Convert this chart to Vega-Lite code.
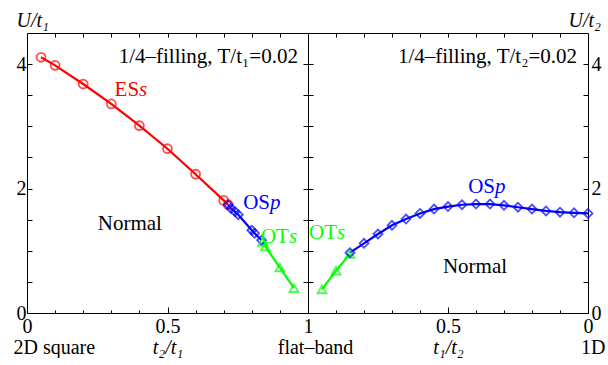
{
  "$schema": "https://vega.github.io/schema/vega-lite/v6.json",
  "background": "white",
  "padding": {"left": 12, "top": 9, "right": 0, "bottom": 0},
  "spacing": 0,
  "bounds": "flush",
  "config": {
    "view": {"stroke": "black", "strokeWidth": 1},
    "axis": {"grid": false, "domain": false, "tickColor": "black", "tickWidth": 1,
      "labelFont": "Liberation Serif", "labelFontSize": 20, "labelColor": "black",
      "titleFont": "Liberation Serif", "titleFontSize": 20, "titleColor": "black", "titleFontWeight": "normal"},
    "text": {"font": "Liberation Serif", "fontSize": 21}
  },
  "hconcat": [
    {
      "width": 281, "height": 280,
      "resolve": {"axis": {"x": "independent", "y": "independent"}},
      "data": {"values": [
        {"x": 0.05, "U": 4.11, "phase": "ESs"},
        {"x": 0.1, "U": 3.98, "phase": "ESs"},
        {"x": 0.2, "U": 3.68, "phase": "ESs"},
        {"x": 0.3, "U": 3.36, "phase": "ESs"},
        {"x": 0.4, "U": 3.01, "phase": "ESs"},
        {"x": 0.5, "U": 2.64, "phase": "ESs"},
        {"x": 0.6, "U": 2.23, "phase": "ESs"},
        {"x": 0.7, "U": 1.81, "phase": "ESs"},
        {"x": 0.716, "U": 1.74, "phase": "ESs"},
        {"x": 0.716, "U": 1.74, "phase": "OSp"},
        {"x": 0.726, "U": 1.68, "phase": "OSp"},
        {"x": 0.74, "U": 1.63, "phase": "OSp"},
        {"x": 0.752, "U": 1.58, "phase": "OSp"},
        {"x": 0.8, "U": 1.33, "phase": "OSp"},
        {"x": 0.81, "U": 1.28, "phase": "OSp"},
        {"x": 0.835, "U": 1.17, "phase": "OSp"},
        {"x": 0.838, "U": 1.14, "phase": "OTs"},
        {"x": 0.848, "U": 1.07, "phase": "OTs"},
        {"x": 0.9, "U": 0.73, "phase": "OTs"},
        {"x": 0.95, "U": 0.4, "phase": "OTs"}
      ]},
      "layer": [
        {
          "mark": {"type": "line", "strokeWidth": 2.2},
          "encoding": {
            "x": {"field": "x", "type": "quantitative", "scale": {"domain": [0, 1], "nice": false, "zero": false},
              "axis": {"orient": "bottom", "values": [0, 0.5, 1], "format": "~g", "tickSize": -6, "labelPadding": 9, "labelFlush": false,
                "title": "t₂/t₁", "titleFontStyle": "italic", "titleX": 140.5, "titleY": 40, "titleAlign": "center", "titleBaseline": "alphabetic"}},
            "y": {"field": "U", "type": "quantitative", "scale": {"domain": [0, 4.5], "nice": false},
              "axis": {"orient": "left", "values": [0, 0.5, 1, 1.5, 2, 2.5, 3, 3.5, 4], "tickSize": -5, "labelPadding": 6,
                "labelExpr": "datum.value % 2 === 0 ? format(datum.value, 'd') : ''",
                "title": "U/t₁", "titleFontStyle": "italic", "titleAngle": 0, "titleX": -11, "titleY": -7, "titleAlign": "left", "titleBaseline": "alphabetic"}},
            "color": {"field": "phase", "type": "nominal", "scale": {"domain": ["ESs", "OSp", "OTs", "Normal"], "range": ["#ff0000", "#0000ff", "#00ff00", "#000000"]}, "legend": null}
          }
        },
        {
          "mark": {"type": "point", "filled": false, "strokeWidth": 1.8, "size": 80},
          "encoding": {
            "x": {"field": "x", "type": "quantitative",
              "axis": {"orient": "top", "values": [0.1, 0.2, 0.3, 0.4, 0.5, 0.6, 0.7, 0.8, 0.9], "tickSize": -4, "labels": false, "title": null}},
            "y": {"field": "U", "type": "quantitative",
              "axis": {"orient": "right", "values": [0.5, 1, 1.5, 2, 2.5, 3, 3.5, 4], "tickSize": -5, "labels": false, "title": null}},
            "color": {"field": "phase", "type": "nominal", "legend": null},
            "shape": {"field": "phase", "type": "nominal", "scale": {"domain": ["ESs", "OSp", "OTs"], "range": ["circle", "diamond", "triangle-up"]}, "legend": null}
          }
        },
        {
          "data": {"values": [
            {"x": 0.399, "U": 3.49, "main": "ES", "ital": "s", "phase": "ESs"},
            {"x": 0.865, "U": 1.67, "main": "OS", "ital": "p", "phase": "OSp"},
            {"x": 0.932, "U": 1.13, "main": "OT", "ital": "s", "phase": "OTs"},
            {"x": 0.48, "U": 1.33, "main": "Normal", "ital": "", "phase": "Normal"},
            {"x": 0.964, "U": 4.02, "main": "1/4–filling, T/t₁=0.02", "ital": "", "phase": "Normal"}
          ]},
          "mark": {"type": "text", "align": "left", "baseline": "alphabetic", "fontStyle": "italic"},
          "encoding": {
            "x": {"field": "x", "type": "quantitative",
              "axis": {"orient": "bottom", "values": [0.1, 0.2, 0.3, 0.4, 0.6, 0.7, 0.8, 0.9], "tickSize": -3, "labels": false,
                "title": "2D square", "titleFontStyle": "normal", "titleX": -14, "titleY": 40, "titleAlign": "left", "titleBaseline": "alphabetic"}},
            "y": {"field": "U", "type": "quantitative", "axis": null},
            "text": {"field": "ital"},
            "color": {"field": "phase", "type": "nominal", "legend": null}
          }
        },
        {
          "data": {"values": [
            {"x": 0.399, "U": 3.49, "main": "ES", "ital": "s", "phase": "ESs"},
            {"x": 0.865, "U": 1.67, "main": "OS", "ital": "p", "phase": "OSp"},
            {"x": 0.932, "U": 1.13, "main": "OT", "ital": "s", "phase": "OTs"},
            {"x": 0.48, "U": 1.33, "main": "Normal", "ital": "", "phase": "Normal"},
            {"x": 0.964, "U": 4.02, "main": "1/4–filling, T/t₁=0.02", "ital": "", "phase": "Normal"}
          ]},
          "mark": {"type": "text", "align": "right", "baseline": "alphabetic"},
          "encoding": {
            "x": {"field": "x", "type": "quantitative", "axis": null},
            "y": {"field": "U", "type": "quantitative", "axis": null},
            "text": {"field": "main"},
            "color": {"field": "phase", "type": "nominal", "legend": null}
          }
        }
      ]
    },
    {
      "width": 280, "height": 280,
      "resolve": {"axis": {"x": "independent", "y": "independent"}},
      "data": {"values": [
        {"x": 0.95, "U": 0.38, "phase": "OTs"},
        {"x": 0.9, "U": 0.68, "phase": "OTs"},
        {"x": 0.85, "U": 0.95, "phase": "OTs"},
        {"x": 0.85, "U": 0.97, "phase": "OSp"},
        {"x": 0.8, "U": 1.12, "phase": "OSp"},
        {"x": 0.75, "U": 1.27, "phase": "OSp"},
        {"x": 0.7, "U": 1.41, "phase": "OSp"},
        {"x": 0.65, "U": 1.51, "phase": "OSp"},
        {"x": 0.6, "U": 1.6, "phase": "OSp"},
        {"x": 0.55, "U": 1.67, "phase": "OSp"},
        {"x": 0.5, "U": 1.71, "phase": "OSp"},
        {"x": 0.45, "U": 1.74, "phase": "OSp"},
        {"x": 0.4, "U": 1.75, "phase": "OSp"},
        {"x": 0.35, "U": 1.75, "phase": "OSp"},
        {"x": 0.3, "U": 1.73, "phase": "OSp"},
        {"x": 0.25, "U": 1.7, "phase": "OSp"},
        {"x": 0.2, "U": 1.67, "phase": "OSp"},
        {"x": 0.15, "U": 1.64, "phase": "OSp"},
        {"x": 0.1, "U": 1.62, "phase": "OSp"},
        {"x": 0.05, "U": 1.61, "phase": "OSp"},
        {"x": 0, "U": 1.6, "phase": "OSp"}
      ]},
      "layer": [
        {
          "mark": {"type": "line", "strokeWidth": 2.2},
          "encoding": {
            "x": {"field": "x", "type": "quantitative", "scale": {"domain": [0, 1], "nice": false, "zero": false, "reverse": true},
              "axis": {"orient": "bottom", "values": [1, 0.5, 0], "format": "~g", "labelExpr": "datum.value == 1 ? '' : datum.label", "tickSize": -6, "labelPadding": 9, "labelFlush": false,
                "title": "t₁/t₂", "titleFontStyle": "italic", "titleX": 140, "titleY": 40, "titleAlign": "center", "titleBaseline": "alphabetic"}},
            "y": {"field": "U", "type": "quantitative", "scale": {"domain": [0, 4.5], "nice": false},
              "axis": {"orient": "right", "values": [0, 0.5, 1, 1.5, 2, 2.5, 3, 3.5, 4], "tickSize": -5, "labelPadding": 8,
                "labelExpr": "datum.value % 2 === 0 ? format(datum.value, 'd') : ''",
                "title": "U/t₂", "titleFontStyle": "italic", "titleAngle": 0, "titleX": -20, "titleY": -7, "titleAlign": "left", "titleBaseline": "alphabetic"}},
            "color": {"field": "phase", "type": "nominal", "legend": null}
          }
        },
        {
          "mark": {"type": "point", "filled": false, "strokeWidth": 1.8, "size": 80},
          "encoding": {
            "x": {"field": "x", "type": "quantitative",
              "axis": {"orient": "top", "values": [0.1, 0.2, 0.3, 0.4, 0.5, 0.6, 0.7, 0.8, 0.9], "tickSize": -4, "labels": false,
                "title": "1D", "titleFontStyle": "normal", "titleX": 297, "titleY": 320, "titleAlign": "right", "titleBaseline": "alphabetic"}},
            "y": {"field": "U", "type": "quantitative",
              "axis": {"orient": "left", "values": [0.5, 1, 1.5, 2, 2.5, 3, 3.5, 4], "tickSize": -5, "labels": false, "title": null}},
            "color": {"field": "phase", "type": "nominal", "legend": null},
            "shape": {"field": "phase", "type": "nominal", "legend": null}
          }
        },
        {
          "data": {"values": [
            {"x": 0.896, "U": 1.19, "main": "OT", "ital": "s", "phase": "OTs"},
            {"x": 0.332, "U": 1.93, "main": "OS", "ital": "p", "phase": "OSp"},
            {"x": 0.289, "U": 0.64, "main": "Normal", "ital": "", "phase": "Normal"},
            {"x": 0.039, "U": 4.02, "main": "1/4–filling, T/t₂=0.02", "ital": "", "phase": "Normal"}
          ]},
          "mark": {"type": "text", "align": "left", "baseline": "alphabetic", "fontStyle": "italic"},
          "encoding": {
            "x": {"field": "x", "type": "quantitative",
              "axis": {"orient": "bottom", "values": [0.1, 0.2, 0.3, 0.4, 0.6, 0.7, 0.8, 0.9], "tickSize": -3, "labels": false,
                "title": "flat–band", "titleFontStyle": "normal", "titleX": 7, "titleY": 40, "titleAlign": "center", "titleBaseline": "alphabetic"}},
            "y": {"field": "U", "type": "quantitative", "axis": null},
            "text": {"field": "ital"},
            "color": {"field": "phase", "type": "nominal", "legend": null}
          }
        },
        {
          "data": {"values": [
            {"x": 0.896, "U": 1.19, "main": "OT", "ital": "s", "phase": "OTs"},
            {"x": 0.332, "U": 1.93, "main": "OS", "ital": "p", "phase": "OSp"},
            {"x": 0.289, "U": 0.64, "main": "Normal", "ital": "", "phase": "Normal"},
            {"x": 0.039, "U": 4.02, "main": "1/4–filling, T/t₂=0.02", "ital": "", "phase": "Normal"}
          ]},
          "mark": {"type": "text", "align": "right", "baseline": "alphabetic"},
          "encoding": {
            "x": {"field": "x", "type": "quantitative", "axis": null},
            "y": {"field": "U", "type": "quantitative", "axis": null},
            "text": {"field": "main"},
            "color": {"field": "phase", "type": "nominal", "legend": null}
          }
        }
      ]
    }
  ]
}
